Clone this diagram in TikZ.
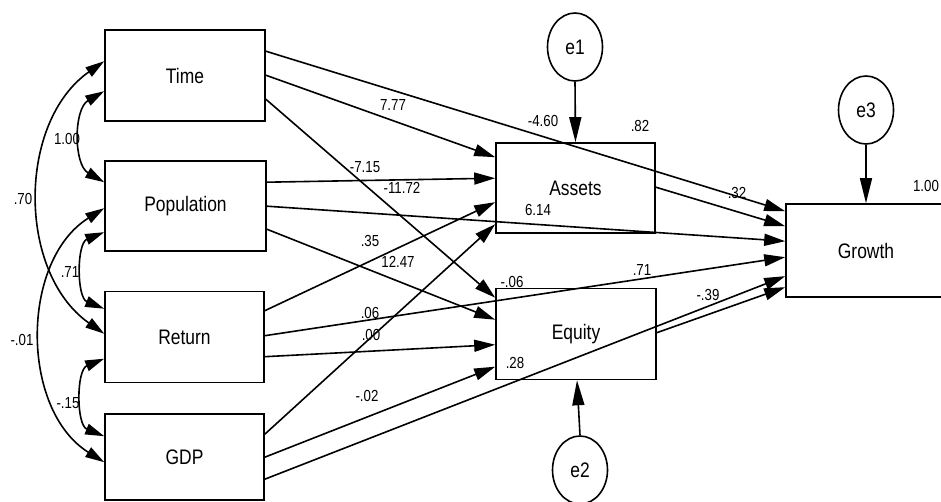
\documentclass[tikz,border=0pt]{standalone}
\usepackage{fontspec}
\setmainfont{Liberation Sans}[FakeStretch=0.83]
\usetikzlibrary{arrows.meta,calc,shapes.geometric}

\begin{document}
\begin{tikzpicture}[x=1pt,y=-1pt,line width=1.6pt,
  varbox/.style={draw,rectangle,inner sep=0pt,minimum width=160pt,minimum height=91pt,
    font=\fontsize{21}{25}\selectfont},
  errnode/.style={draw,ellipse,inner sep=0pt,minimum width=55pt,minimum height=68pt,
    font=\fontsize{21}{25}\selectfont},
  coeflabel/.style={inner sep=0pt,font=\fontsize{16}{19}\selectfont},
  causal/.style={-{Triangle[length=21pt,width=12pt]}},
  errpath/.style={-{Triangle[length=25pt,width=12pt]}},
  covar/.style={{Triangle[length=19pt,width=11pt]}-{Triangle[length=19pt,width=11pt]}},
]
\useasboundingbox (0,0) rectangle (941,502);
\fill[white] (0,0) rectangle (941,502);
\clip (0,0) rectangle (941,502);

% observed variables
\node[varbox] (time)   at (185,75.5)   {Time};
\node[varbox,minimum width=161pt,minimum height=90pt] (pop) at (185.5,206) {Population};
\node[varbox,minimum width=159pt] (ret) at (184.5,337) {Return};
\node[varbox,minimum width=159pt,minimum height=86pt] (gdp) at (184.5,457) {GDP};
\node[varbox,minimum width=159pt,minimum height=90pt] (assets) at (575.5,188) {Assets};
\node[varbox] (equity) at (576,334) {Equity};
\node[varbox,minimum height=93pt] (growth) at (866,250.5) {Growth};

% error terms
\node[errnode] (e1) at (575,47) {e1};
\node[errnode] (e3) at (866,110) {e3};
\node[errnode] (e2) at (580,470) {e2};

\draw[errpath] (e1.south) -- (assets.north);
\draw[errpath] (e3.south) -- (growth.north);
\draw[errpath] (e2.north) -- ($(equity.south)+(1,0)$);

% paths into Assets
\draw[causal] ($(time.north east)+(0,46)$) -- ($(assets.north west)+(0,15)$);
\draw[causal] ($(pop.north east)+(0,22)$)  -- ($(assets.north west)+(0,36)$);
\draw[causal] ($(ret.north east)+(0,20)$)  -- ($(assets.north west)+(0,60)$);
\draw[causal] ($(gdp.north east)+(0,21)$)  -- ($(assets.north west)+(0,82)$);

% paths into Equity
\draw[causal] ($(time.north east)+(0,70)$) -- ($(equity.north west)+(0,10)$);
\draw[causal] ($(pop.north east)+(0,69)$)  -- ($(equity.north west)+(0,32)$);
\draw[causal] ($(ret.north east)+(0,66)$)  -- ($(equity.north west)+(0,57)$);
\draw[causal] ($(gdp.north east)+(0,44)$)  -- ($(equity.north west)+(0,79)$);

% paths into Growth
\draw[causal] ($(time.north east)+(0,22)$)   -- ($(growth.north west)+(0,8)$);
\draw[causal] ($(assets.north east)+(0,45)$) -- ($(growth.north west)+(0,23)$);
\draw[causal] ($(pop.north east)+(0,46)$)    -- ($(growth.north west)+(0,38)$);
\draw[causal] ($(ret.north east)+(0,45)$)    -- ($(growth.north west)+(0,54)$);
\draw[causal] ($(gdp.north east)+(0,66)$)    -- ($(growth.north west)+(0,73)$);
\draw[causal] ($(equity.north east)+(0,45)$) -- ($(growth.north west)+(0,84)$);

% covariances among the exogenous variables
\draw[covar] ($(time.north west)+(0,62)$) to[bend right=60] ($(pop.north west)+(0,22)$);
\draw[covar] ($(time.north west)+(0,32)$) to[bend right=55] ($(ret.north west)+(0,43)$);
\draw[covar] ($(pop.north west)+(0,72)$)  to[bend right=68] ($(ret.north west)+(0,18)$);
\draw[covar] ($(pop.north west)+(0,48)$)  to[bend right=58] ($(gdp.north west)+(0,49)$);
\draw[covar] ($(ret.north west)+(0,68)$)  to[bend right=68] ($(gdp.north west)+(0,23)$);

% estimates
\node[coeflabel] (k1)  at (67,139)  {1.00};
\node[coeflabel] (k2)  at (23,199)  {.70};
\node[coeflabel] (k3)  at (70,272)  {.71};
\node[coeflabel] (k4)  at (22,340)  {-.01};
\node[coeflabel] (k5)  at (68,403)  {-.15};
\node[coeflabel] (k6)  at (393,105) {7.77};
\node[coeflabel] (k7)  at (365,167) {-7.15};
\node[coeflabel] (k8)  at (402,188) {-11.72};
\node[coeflabel] (k9)  at (370,241) {.35};
\node[coeflabel] (k10) at (398,262) {12.47};
\node[coeflabel] (k11) at (370,313) {.06};
\node[coeflabel] (k12) at (371,335) {.00};
\node[coeflabel] (k13) at (367,396) {-.02};
\node[coeflabel] (k14) at (543,121) {-4.60};
\node[coeflabel] (k15) at (640,126) {.82};
\node[coeflabel] (k16) at (737,193) {.32};
\node[coeflabel] (k17) at (538,210) {6.14};
\node[coeflabel] (k18) at (512,282) {-.06};
\node[coeflabel] (k19) at (642,270) {.71};
\node[coeflabel] (k20) at (708,295) {-.39};
\node[coeflabel] (k21) at (515,363) {.28};
\node[coeflabel] (k22) at (926,186) {1.00};
\end{tikzpicture}
\end{document}
